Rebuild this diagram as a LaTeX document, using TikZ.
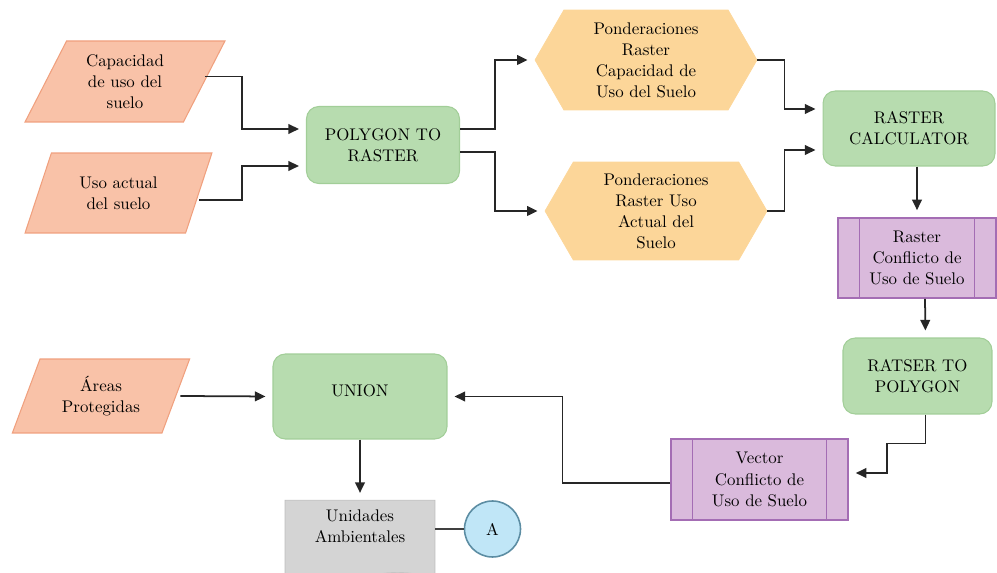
\documentclass[tikz,border=0pt]{standalone}
\usetikzlibrary{shapes.geometric,shapes.symbols,arrows.meta,positioning}
\definecolor{salmonF}{HTML}{F9C2A8}
\definecolor{salmonD}{HTML}{F0A07E}
\definecolor{greenF}{HTML}{B7DCAF}
\definecolor{greenD}{HTML}{A2CE98}
\definecolor{peachF}{HTML}{FCD699}
\definecolor{lilaF}{HTML}{DABADC}
\definecolor{lilaD}{HTML}{A46DB4}
\definecolor{grayF}{HTML}{D4D4D4}
\definecolor{grayD}{HTML}{BDBDBD}
\definecolor{cyanF}{HTML}{C0E6F7}
\definecolor{cyanD}{HTML}{5C8DA3}

\begin{document}
\begin{tikzpicture}[x=0.02cm,y=-0.02cm,>={Triangle[length=6pt,width=5.5pt]},
 font=\fontsize{9.6}{12}\selectfont,text=black,
 entrada/.style={trapezium,trapezium left angle=63,trapezium right angle=117,trapezium stretches=true,
   fill=salmonF,draw=salmonD,line width=.6pt,align=center,inner sep=0pt},
 tarea/.style={rectangle,rounded corners=7pt,fill=greenF,draw=greenD,line width=.6pt,align=center},
 pond/.style={signal,signal to=east and west,signal pointer angle=120,fill=peachF,draw=peachF,align=center,inner sep=0pt},
 proceso/.style={rectangle,fill=lilaF,draw=lilaD,line width=.9pt,align=center,
   path picture={\draw[lilaD,line width=.9pt]
     ([xshift=.43cm]path picture bounding box.north west) -- ([xshift=.43cm]path picture bounding box.south west)
     ([xshift=-.43cm]path picture bounding box.north east) -- ([xshift=-.43cm]path picture bounding box.south east);}},
 flujo/.style={->,line width=1pt,draw=black!85,shorten >=4pt}]
\useasboundingbox (0,0) rectangle (997,573);

% entradas
\node[entrada,minimum width=4cm,minimum height=1.62cm] (cap) at (125,81.5) {Capacidad\\de uso del\\suelo};
\node[entrada,minimum width=3.74cm,minimum height=1.6cm,trapezium left angle=65,trapezium right angle=115] (uso) at (118.5,193) {Uso actual\\del suelo};
\node[entrada,minimum width=3.56cm,minimum height=1.48cm,trapezium left angle=66,trapezium right angle=114] (areas) at (101,396) {\'Areas\\Protegidas};

% procesos
\node[tarea,minimum width=3.06cm,minimum height=1.54cm] (p2r) at (383,145) {POLYGON TO\\RASTER};
\node[pond,minimum width=4.44cm,minimum height=2cm] (hexa) at (646,60) {Ponderaciones\\Raster\\Capacidad de\\Uso del Suelo};
\node[pond,minimum width=4.44cm,minimum height=1.96cm] (hexb) at (656,211) {Ponderaciones\\Raster Uso\\Actual del\\Suelo};
\node[tarea,minimum width=3.44cm,minimum height=1.5cm] (calc) at (909,128.5) {RASTER\\CALCULATOR};
\node[proceso,minimum width=3.16cm,minimum height=1.6cm] (rcon) at (917,258) {Raster\\Conflicto de\\Uso de Suelo};
\node[tarea,minimum width=2.98cm,minimum height=1.52cm] (r2p) at (917.5,376) {RATSER TO\\POLYGON};
\node[proceso,minimum width=3.54cm,minimum height=1.62cm] (vec) at (759.5,479.5) {Vector\\Conflicto de\\Uso de Suelo};
\node[tarea,minimum width=3.48cm,minimum height=1.7cm,text depth=6.8pt] (uni) at (360,396.5) {UNION};
\node[tape,tape bend top=none,tape bend bottom=in and out,tape bend height=6pt,fill=grayF,draw=grayD,
  minimum width=3cm,minimum height=1.66cm,align=center] (unid) at (360,536.5) {Unidades\\Ambientales\\[0pt]};
\node[circle,fill=cyanF,draw=cyanD,line width=.9pt,minimum size=1.12cm] (circA) at (492.5,529) {A};

% conexiones
\draw[flujo] ([yshift=.1cm]cap.east) -| ([xshift=-1.28cm,yshift=.32cm]p2r.west) -- ([yshift=.32cm]p2r.west);
\draw[flujo] ([yshift=-.14cm]uso.east) -| ([xshift=-1.28cm,yshift=-.42cm]p2r.west) -- ([yshift=-.42cm]p2r.west);
\draw[flujo] ([yshift=.32cm]p2r.east) -| ([xshift=-.8cm]hexa.west) -- (hexa.west);
\draw[flujo] ([yshift=-.14cm]p2r.east) -| ([xshift=-1cm]hexb.west) -- (hexb.west);
\draw[flujo] (hexa.east) -| ([xshift=-.76cm,yshift=.39cm]calc.west) -- ([yshift=.39cm]calc.west);
\draw[flujo] (hexb.east) -| ([xshift=-.76cm,yshift=-.43cm]calc.west) -- ([yshift=-.43cm]calc.west);
\draw[flujo] (rcon.north |- calc.south) -- (rcon.north);
\draw[flujo] ([xshift=.16cm]rcon.south) -- ([xshift=.16cm]r2p.north);
\draw[flujo] ([xshift=.16cm]r2p.south) -- ++(0,29) -| ([xshift=.76cm,yshift=.13cm]vec.east) -- ([yshift=.13cm]vec.east);
\draw[flujo] ([yshift=-.07cm]vec.west) -| ([xshift=2.3cm]uni.east) -- (uni.east);
\draw[flujo] ([xshift=.08cm]areas.east) -- (uni.west);
\draw[flujo] (uni.south) -- (unid.north);
\draw[line width=.6pt,draw=black!75] (unid.east |- circA.west) -- (circA.west);
\end{tikzpicture}
\end{document}
